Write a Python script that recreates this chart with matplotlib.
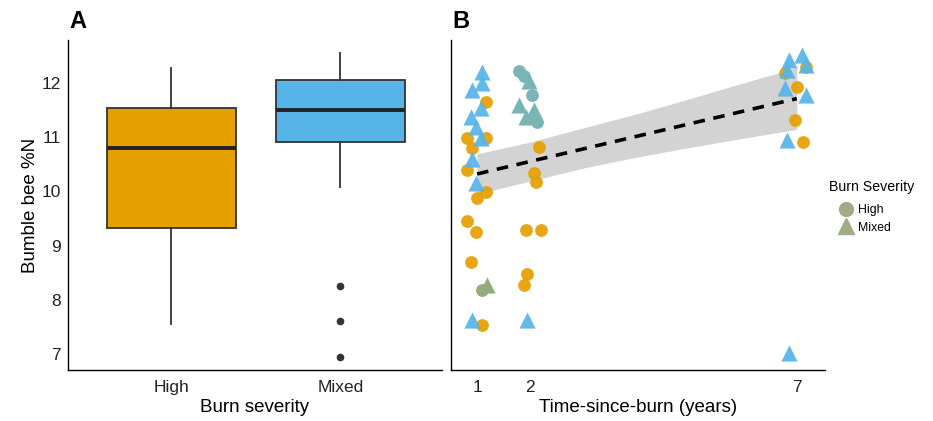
import matplotlib
matplotlib.use("Agg")
import matplotlib.pyplot as plt
from matplotlib.lines import Line2D
import numpy as np

plt.rcParams['font.family'] = ['Liberation Sans', 'DejaVu Sans']

# ---------------- Panel A data (box summaries) ----------------
severity = ["High", "Mixed"]
box_q1 = [9.33, 10.90]
box_med = [10.80, 11.50]
box_q3 = [11.53, 12.06]
box_whislo = [7.55, 10.08]
box_whishi = [12.28, 12.55]
box_fliers = [[], [8.25, 7.60, 6.95]]
box_colors = ["#E69F00", "#56B4E9"]

# ---------------- Panel B data ----------------
# year 1
y1_mixed_x = [1.09, 1.09, 0.91, 1.08, 0.89, 0.98, 1.08, 0.91, 0.98, 0.91]
y1_mixed_y = [12.20, 12.00, 11.87, 11.54, 11.37, 11.19, 10.99, 10.60, 10.15, 7.63]
y1_high_x = [1.17, 0.81, 1.17, 0.91, 0.81, 1.00, 1.17, 0.81, 0.98, 0.89, 1.09]
y1_high_y = [11.65, 10.98, 10.98, 10.80, 10.39, 9.88, 9.99, 9.45, 9.25, 8.70, 7.53]
y1_green_high_x = [1.09]
y1_green_high_y = [8.18]
y1_green_mixed_x = [1.19]
y1_green_mixed_y = [8.27]
# year 2
y2_teal_high_x = [1.79, 1.88, 2.03, 2.13]
y2_teal_high_y = [12.22, 12.12, 11.78, 11.28]
y2_teal_mixed_x = [1.98, 1.79, 2.07, 1.92, 2.03]
y2_teal_mixed_y = [12.03, 11.60, 11.50, 11.37, 11.42]
y2_high_x = [2.17, 2.07, 2.11, 1.92, 2.20, 1.94, 1.88]
y2_high_y = [10.82, 10.34, 10.18, 9.28, 9.28, 8.47, 8.27]
y2_mixed_x = [1.94]
y2_mixed_y = [7.63]
# year 7
y7_mixed_x = [7.09, 6.86, 7.18, 6.81, 6.77, 7.18, 6.81, 6.86]
y7_mixed_y = [12.52, 12.42, 12.33, 12.24, 11.90, 11.78, 10.95, 7.02]
y7_high_x = [7.18, 6.77, 7.00, 6.96, 7.11]
y7_high_y = [12.30, 12.18, 11.93, 11.32, 10.90]

# regression fit and confidence band
fit_x = [1, 7]
fit_y = [10.32, 11.71]
band_x = [1, 2, 3, 4, 5, 6, 7]
band_lo = [9.95, 10.19, 10.43, 10.63, 10.81, 10.98, 11.14]
band_hi = [10.69, 10.91, 11.17, 11.43, 11.71, 12.00, 12.28]

year_ticks = [1, 2, 7]

ORANGE = "#E69F00"
BLUE = "#56B4E9"
TEAL = "#7AB5B6"
GREEN = "#94AB7E"
LEG = "#A0AC86"

fig = plt.figure(figsize=(9.33, 4.21), dpi=100)
axA = fig.add_axes([68/933, 1-370/421, 374/933, 330/421])
axB = fig.add_axes([451/933, 1-370/421, 374/933, 330/421])

ylim = (6.705, 12.79)

# ---------------- Panel A ----------------
stats = []
for i in range(2):
    stats.append(dict(med=box_med[i], q1=box_q1[i], q3=box_q3[i],
                      whislo=box_whislo[i], whishi=box_whishi[i],
                      fliers=box_fliers[i], label=severity[i]))
bp = axA.bxp(stats, positions=[1, 2], widths=0.76, patch_artist=True,
             showcaps=False,
             boxprops=dict(edgecolor="#333333", linewidth=1.3),
             whiskerprops=dict(color="#333333", linewidth=1.3),
             medianprops=dict(color="#222222", linewidth=2.8),
             flierprops=dict(marker="o", markerfacecolor="#333333",
                             markeredgecolor="#333333", markersize=4.5))
for patch, c in zip(bp["boxes"], box_colors):
    patch.set_facecolor(c)
axA.set_xlim(0.39, 2.6)
axA.set_ylim(*ylim)
axA.set_yticks([7, 8, 9, 10, 11, 12])
axA.set_xticks([1, 2])
axA.set_xticklabels(severity)
axA.tick_params(axis="both", length=0, labelsize=12.5, colors="#222222", pad=7)
axA.tick_params(axis="y", pad=5)
axA.set_xlabel("Burn severity", fontsize=13.5, labelpad=3)
axA.set_ylabel("Bumble bee %N", fontsize=13.5, labelpad=2)
for s in ["top", "right"]:
    axA.spines[s].set_visible(False)
for s in ["left", "bottom"]:
    axA.spines[s].set_linewidth(1.0)

# ---------------- Panel B ----------------
axB.fill_between(band_x, band_lo, band_hi, color="#D3D3D3", linewidth=0, zorder=1)
ms_c = 85
ms_t = 135
axB.scatter(y1_high_x + y2_high_x + y7_high_x, y1_high_y + y2_high_y + y7_high_y,
            marker="o", s=ms_c, color=ORANGE, linewidths=0, alpha=0.92, zorder=2)
axB.scatter(y1_mixed_x + y2_mixed_x + y7_mixed_x, y1_mixed_y + y2_mixed_y + y7_mixed_y,
            marker="^", s=ms_t, color=BLUE, linewidths=0, alpha=0.92, zorder=2)
axB.scatter(y2_teal_high_x, y2_teal_high_y, marker="o", s=ms_c, color=TEAL,
            linewidths=0, zorder=2)
axB.scatter(y2_teal_mixed_x, y2_teal_mixed_y, marker="^", s=ms_t, color=TEAL,
            linewidths=0, zorder=2)
axB.scatter(y1_green_high_x, y1_green_high_y, marker="o", s=ms_c, color=GREEN,
            linewidths=0, zorder=2)
axB.scatter(y1_green_mixed_x, y1_green_mixed_y, marker="^", s=ms_t, color=GREEN,
            linewidths=0, zorder=2)
axB.plot(fit_x, fit_y, color="black", linestyle=(0, (3.2, 2.4)), linewidth=2.6, zorder=3)

axB.set_xlim(0.51, 7.53)
axB.set_ylim(*ylim)
axB.set_xticks(year_ticks)
axB.set_xticklabels([str(v) for v in year_ticks])
axB.set_yticks([7, 8, 9, 10, 11, 12])
axB.set_yticklabels([])
axB.tick_params(axis="both", length=0, labelsize=12.5, colors="#222222", pad=7)
axB.set_xlabel("Time-since-burn (years)", fontsize=13.5, labelpad=3)
for s in ["top", "right"]:
    axB.spines[s].set_visible(False)
for s in ["left", "bottom"]:
    axB.spines[s].set_linewidth(1.0)

# panel letters
fig.text(69/933, 1-22/421, "A", fontsize=17, fontweight="bold", va="center", ha="left")
fig.text(452/933, 1-22/421, "B", fontsize=17, fontweight="bold", va="center", ha="left")

# legend
fig.text(829/933, 1-187/421, "Burn Severity", fontsize=10.2, va="center", ha="left")
handles = [Line2D([], [], marker="o", linestyle="none", color=LEG, markersize=10),
           Line2D([], [], marker="^", linestyle="none", color=LEG, markersize=11.5)]
leg = fig.legend(handles, ["High", "Mixed"],
                 loc="upper left", bbox_to_anchor=(832/933, 1-198/421),
                 frameon=False, fontsize=8.8,
                 labelspacing=0.45, handletextpad=0.35, handlelength=1.3,
                 borderpad=0.0)

fig.savefig("out.png", dpi=100)
